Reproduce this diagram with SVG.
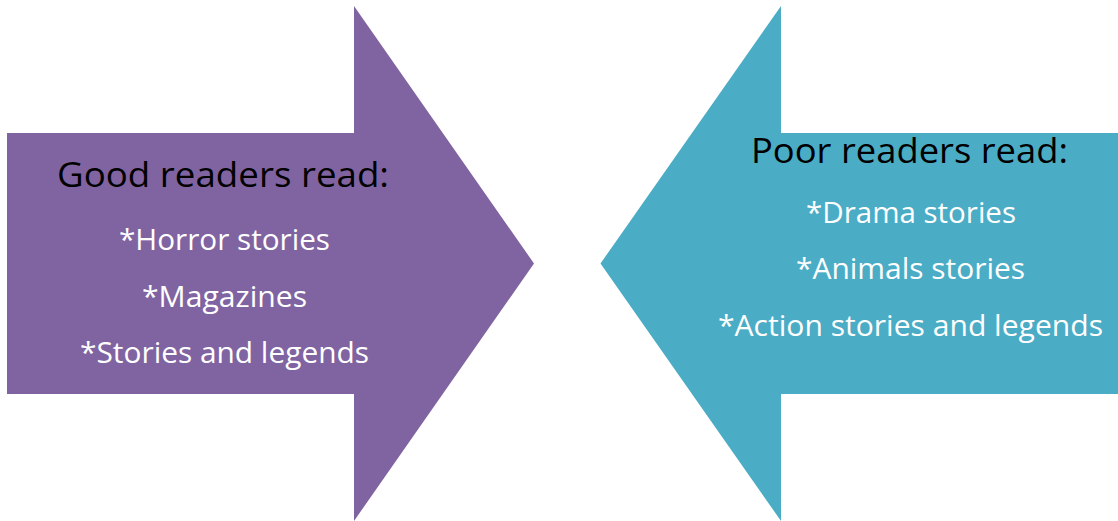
<svg xmlns="http://www.w3.org/2000/svg" width="1118" height="521" viewBox="0 0 1118 521">
  <style>
    .head { font-family: "Open Sans", "Liberation Sans", sans-serif; font-size: 34px; fill: #000000; }
    .item { font-family: "Open Sans", "Liberation Sans", sans-serif; font-size: 29px; fill: #FFFFFF; }
    .good { fill: #8064A2; }
    .poor { fill: #4BACC6; }
  </style>
  <rect width="1118" height="521" fill="#FFFFFF"/>

  <!-- Right-pointing arrow -->
  <g id="good-readers">
    <polygon class="good" points="7,133 354,133 354,6 534,263.5 354,521 354,394 7,394"/>
    <text class="head" x="57" y="187" textLength="332" lengthAdjust="spacingAndGlyphs">Good readers read:</text>
    <text class="item" x="119" y="250" textLength="211" lengthAdjust="spacingAndGlyphs">*Horror stories</text>
    <text class="item" x="142" y="307" textLength="165" lengthAdjust="spacingAndGlyphs">*Magazines</text>
    <text class="item" x="80" y="363" textLength="289" lengthAdjust="spacingAndGlyphs">*Stories and legends</text>
  </g>

  <!-- Left-pointing arrow -->
  <g id="poor-readers">
    <polygon class="poor" points="1118,133 781,133 781,6 600.5,263.5 781,521 781,394 1118,394"/>
    <text class="head" x="751" y="163" textLength="317" lengthAdjust="spacingAndGlyphs">Poor readers read:</text>
    <text class="item" x="806" y="223" textLength="210" lengthAdjust="spacingAndGlyphs">*Drama stories</text>
    <text class="item" x="796" y="279" textLength="229" lengthAdjust="spacingAndGlyphs">*Animals stories</text>
    <text class="item" x="718" y="336" textLength="385" lengthAdjust="spacingAndGlyphs">*Action stories and legends</text>
  </g>

  <g id="connectors"></g>
</svg>
